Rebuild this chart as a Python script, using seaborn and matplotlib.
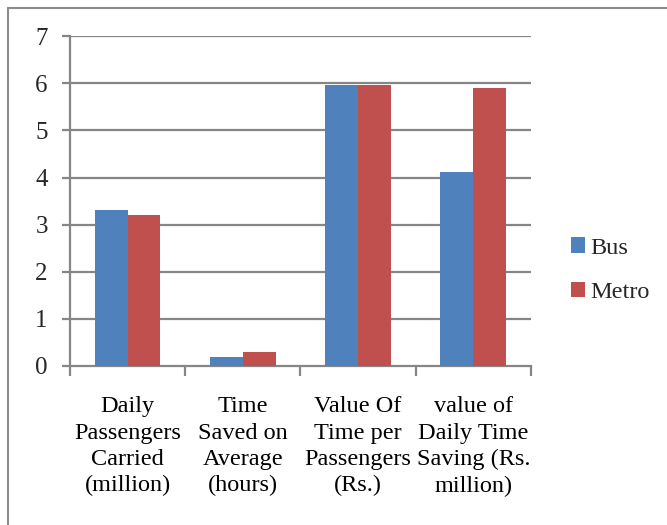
import matplotlib
matplotlib.use("Agg")
import matplotlib.pyplot as plt
from matplotlib.lines import Line2D
from matplotlib.ticker import FixedLocator
import seaborn as sns
import pandas as pd

categories = [
    "Daily\nPassengers\nCarried\n(million)",
    "Time\nSaved on\nAverage\n(hours)",
    "Value Of\nTime per\nPassengers\n(Rs.)",
    "value of\nDaily Time\nSaving (Rs.\nmillion)",
]
series_names = ["Bus", "Metro"]
bus_values = [3.3, 0.2, 5.96, 4.12]
metro_values = [3.2, 0.3, 5.96, 5.9]
y_ticks = [0, 1, 2, 3, 4, 5, 6, 7]

df = pd.DataFrame({
    "category": categories * 2,
    "mode": [series_names[0]] * len(categories) + [series_names[1]] * len(categories),
    "value": bus_values + metro_values,
})

sns.set_theme(style="white")
plt.rcParams["font.family"] = ["Liberation Serif", "DejaVu Serif"]

fig = plt.figure(figsize=(6.67, 5.25), dpi=100)
ax = fig.add_axes([0.105, 0.303, 0.691, 0.628])

palette = {"Bus": "#4F81BD", "Metro": "#C0504D"}
sns.barplot(data=df, x="category", y="value", hue="mode", order=categories,
            hue_order=series_names, palette=palette, width=0.57,
            saturation=1, edgecolor="none", ax=ax, zorder=3)

grid_color = "#868686"
ax.set_ylim(0, 7)
ax.set_xlim(-0.5, 3.5)
ax.set_yticks(y_ticks)
ax.set_yticklabels([str(t) for t in y_ticks])
for t in y_ticks[1:]:
    ax.axhline(t, color=grid_color, lw=1.6, zorder=1)

ax.xaxis.set_minor_locator(FixedLocator([-0.5, 0.5, 1.5, 2.5, 3.5]))
ax.tick_params(axis="x", which="major", length=0, pad=22, labelsize=17.5,
               colors="black")
ax.tick_params(axis="x", which="minor", length=7, width=1.6, color=grid_color,
               bottom=True)
ax.tick_params(axis="y", which="major", length=6, width=1.6, color=grid_color,
               pad=10, labelsize=18, left=True)
for lbl in ax.get_xticklabels():
    lbl.set_linespacing(1.33)

for side in ["top", "right"]:
    ax.spines[side].set_visible(False)
for side in ["left", "bottom"]:
    ax.spines[side].set_color(grid_color)
    ax.spines[side].set_linewidth(1.6)

ax.set_xlabel("")
ax.set_ylabel("")

leg = ax.legend(loc="center left", bbox_to_anchor=(1.065, 0.29), frameon=False,
                fontsize=17.5, handlelength=0.6, handleheight=0.6,
                handletextpad=0.2, labelspacing=0.95, borderaxespad=0)

# outer chart frame
fig.add_artist(Line2D([0.012, 0.012], [0, 0.985], transform=fig.transFigure,
                      color="#8c8c8c", lw=1.5))
fig.add_artist(Line2D([0.012, 1], [0.985, 0.985], transform=fig.transFigure,
                      color="#8c8c8c", lw=1.5))

fig.savefig("out.png", dpi=100)
